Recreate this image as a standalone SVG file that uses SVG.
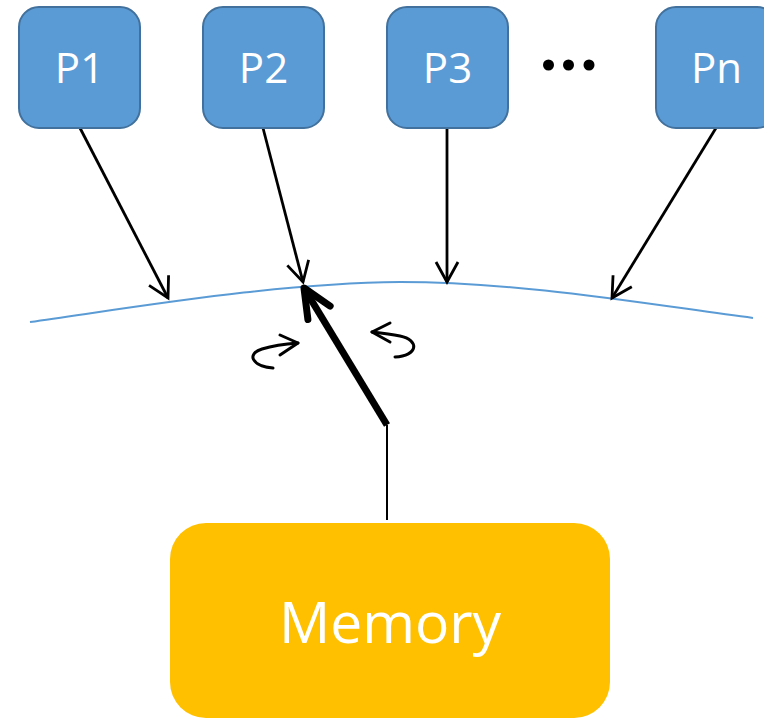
<svg xmlns="http://www.w3.org/2000/svg" width="764" height="718" viewBox="0 0 764 718">
<defs>
<style>
.proc rect{fill:#5B9BD5;stroke:#41719C;stroke-width:2}
.lbl{font-family:"Open Sans","Liberation Sans",sans-serif;fill:#fff;text-anchor:middle}
.conn{stroke:#000;fill:none;stroke-width:2.8}
.rot{stroke:#000;fill:none;stroke-width:3;stroke-linecap:round;stroke-linejoin:round}
</style>
<marker id="ah" markerUnits="userSpaceOnUse" markerWidth="40" markerHeight="40" viewBox="-30 -20 40 40" refX="0" refY="0" orient="auto">
<path d="M-20,-11 L0,0 L-20,11" fill="none" stroke="#000" stroke-width="2.8"/>
</marker>
<marker id="ahb" markerUnits="userSpaceOnUse" markerWidth="60" markerHeight="60" viewBox="-40 -30 60 60" refX="0" refY="0" orient="auto">
<path d="M-29,-13 L0,0 L-29,13" fill="none" stroke="#000" stroke-width="7" stroke-linecap="round" stroke-linejoin="round"/>
</marker>
</defs>
<rect width="764" height="718" fill="#fff"/>

<g id="bus">
<path d="M30,322 C150,305 280,283 400,282 C520,282 640,303 753,318" fill="none" stroke="#5B9BD5" stroke-width="2"/>
</g>

<g id="connectors">
<line class="conn" x1="80" y1="128" x2="168" y2="298" marker-end="url(#ah)"/>
<line class="conn" x1="263" y1="128" x2="303" y2="282" marker-end="url(#ah)"/>
<line class="conn" x1="447" y1="128" x2="447" y2="282" marker-end="url(#ah)"/>
<line class="conn" x1="716" y1="128" x2="612" y2="298" marker-end="url(#ah)"/>
<line x1="387" y1="520" x2="387" y2="425" stroke="#000" stroke-width="2"/>
<line x1="387" y1="425" x2="304" y2="288" stroke="#000" stroke-width="7" marker-end="url(#ahb)"/>
<path class="rot" d="M273,368 C252,366 246,354 262,349 C272,346 285,344 298,343"/>
<path class="rot" d="M280,335 L298,343 L280,355"/>
<path class="rot" d="M395,357 C418,356 420,340 400,336 C390,334 381,333 372,332"/>
<path class="rot" d="M390,323 L372,332 L390,342"/>
</g>

<g id="P1" class="proc"><rect x="19" y="7" width="121" height="121" rx="20"/><text class="lbl" x="79.5" y="83" font-size="42">P1</text></g>
<g id="P2" class="proc"><rect x="203" y="7" width="121" height="121" rx="20"/><text class="lbl" x="263.5" y="83" font-size="42">P2</text></g>
<g id="P3" class="proc"><rect x="387" y="7" width="121" height="121" rx="20"/><text class="lbl" x="447.5" y="83" font-size="42">P3</text></g>
<g id="Pn" class="proc"><rect x="656" y="7" width="121" height="121" rx="20"/><text class="lbl" x="716.5" y="83" font-size="42">Pn</text></g>

<g id="dots" fill="#000">
<circle cx="548.5" cy="65" r="5.5"/><circle cx="568.5" cy="65" r="5.5"/><circle cx="589" cy="65" r="5.5"/>
</g>

<g id="Memory">
<rect x="170" y="523" width="440" height="195" rx="36" fill="#FFC000"/>
<text class="lbl" x="390" y="643" font-size="57">Memory</text>
</g>
</svg>
